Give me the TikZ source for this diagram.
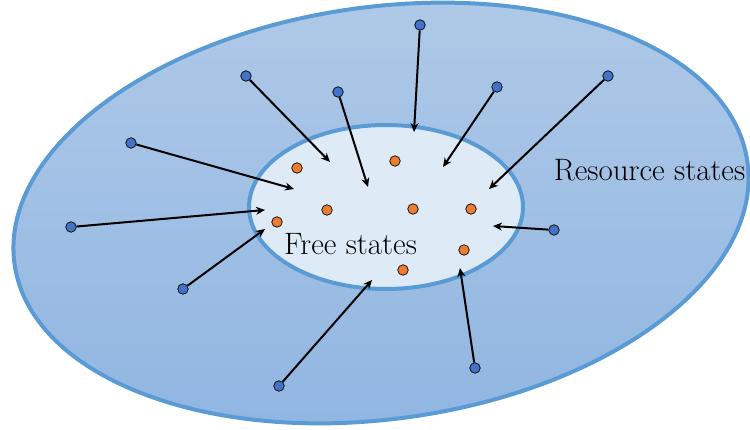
\documentclass[tikz,border=0pt]{standalone}
\usepackage{fontspec}
\usetikzlibrary{arrows.meta}
\definecolor{outerTop}{RGB}{176,202,232}
\definecolor{outerBot}{RGB}{143,181,225}
\definecolor{rim}{RGB}{91,155,213}
\definecolor{innerFill}{RGB}{222,235,247}
\definecolor{dotBlue}{RGB}{68,114,196}
\definecolor{dotOrange}{RGB}{237,125,49}
\tikzset{
  bluedot/.style={circle,draw=black,line width=0.7pt,fill=dotBlue,inner sep=0pt,minimum size=10.5pt},
  orangedot/.style={circle,draw=black,line width=0.7pt,fill=dotOrange,inner sep=0pt,minimum size=10.5pt},
  flow/.style={line width=2pt,-{Stealth[length=9pt,width=8pt]}},
  label/.style={font=\fontsize{31}{36}\selectfont,inner sep=0pt}
}
\begin{document}
\begin{tikzpicture}[x=1pt,y=-1pt]
\useasboundingbox (0,0) rectangle (750,430);
\begin{scope}[shift={(381,213)},rotate=7.93]
  \path[top color=outerTop,bottom color=outerBot,draw=rim,line width=4pt] (0,0) ellipse (370pt and 206pt);
\end{scope}
\path[fill=innerFill,draw=rim,line width=4pt] (386,207) ellipse (137pt and 82pt);
% orange dots
\node[orangedot] (o1) at (297,168) {};
\node[orangedot] (o2) at (395,161) {};
\node[orangedot] (o3) at (327,210) {};
\node[orangedot] (o4) at (413,209) {};
\node[orangedot] (o5) at (471,209) {};
\node[orangedot] (o6) at (277,222) {};
\node[orangedot] (o7) at (464,250) {};
\node[orangedot] (o8) at (403,270) {};
% labels
\node[label] (free) at (350.5,244) {Free states};
\node[label] (res) at (649.5,170) {Resource states};
% blue dots
\node[bluedot] (b1) at (420,25) {};
\node[bluedot] (b2) at (246,76) {};
\node[bluedot] (b3) at (338,92) {};
\node[bluedot] (b4) at (497,87) {};
\node[bluedot] (b5) at (608,76) {};
\node[bluedot] (b6) at (131,143) {};
\node[bluedot] (b7) at (71,227) {};
\node[bluedot] (b8) at (554,230) {};
\node[bluedot] (b9) at (183,289) {};
\node[bluedot] (b10) at (279,386) {};
\node[bluedot] (b11) at (475,368) {};
% arrow ends
\coordinate (e1) at (414,132);
\coordinate (e2) at (330,162);
\coordinate (e3) at (368,187);
\coordinate (e4) at (443,167);
\coordinate (e5) at (489,189);
\coordinate (e6) at (294,189);
\coordinate (e7) at (265,210);
\coordinate (e8) at (493,226);
\coordinate (e9) at (265,229);
\coordinate (e10) at (372,280);
\coordinate (e11) at (460,268);
\foreach \i in {1,...,11} \draw[flow] (b\i) -- (e\i);
\end{tikzpicture}
\end{document}
